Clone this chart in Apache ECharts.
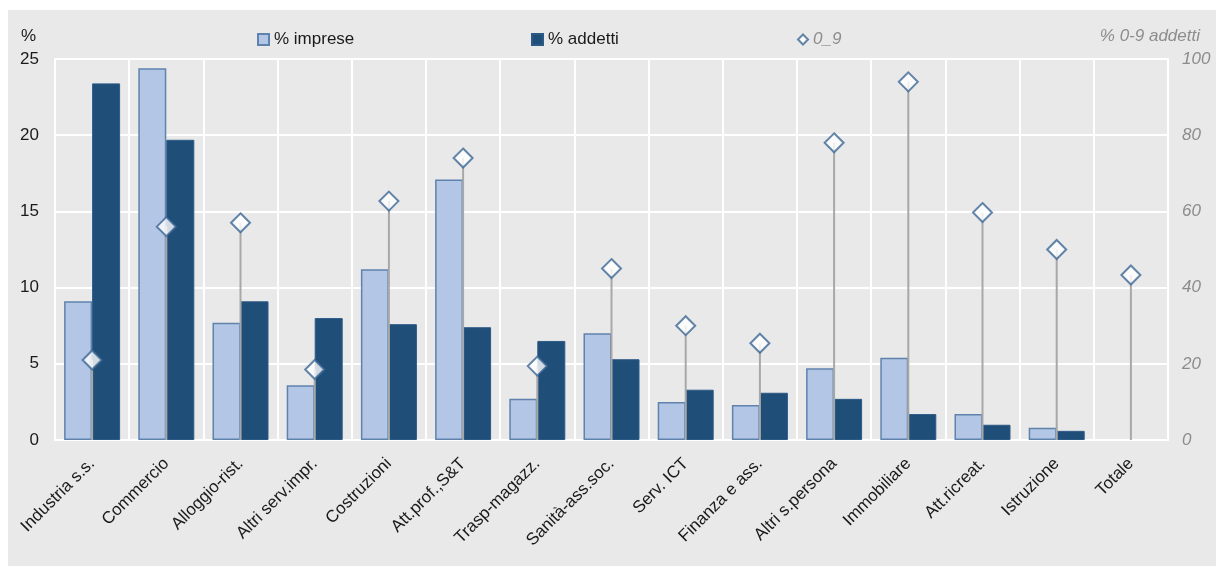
<!DOCTYPE html>
<html>
<head>
<meta charset="utf-8">
<script src="https://cdn.jsdelivr.net/npm/echarts@6/dist/echarts.min.js"></script>
<style>
  html, body { margin: 0; padding: 0; background: #ffffff; }
  #chart { position: absolute; left: 8px; top: 10px; width: 1208px; height: 556px; }
</style>
</head>
<body>
<div id="chart"></div>
<script>
// Sectors
const categories = [
  'Industria s.s.', 'Commercio', 'Alloggio-rist.', 'Altri serv.impr.', 'Costruzioni',
  'Att.prof.,S&T', 'Trasp-magazz.', 'Sanità-ass.soc.', 'Serv. ICT', 'Finanza e ass.',
  'Altri s.persona', 'Immobiliare', 'Att.ricreat.', 'Istruzione', 'Totale'
];
// Share of firms (%), left axis
const impresePct = [9.1, 24.4, 7.7, 3.6, 11.2, 17.1, 2.7, 7.0, 2.5, 2.3, 4.7, 5.4, 1.7, 0.8, null];
// Share of employees (%), left axis
const addettiPct = [23.4, 19.7, 9.1, 8.0, 7.6, 7.4, 6.5, 5.3, 3.3, 3.1, 2.7, 1.7, 1.0, 0.6, null];
// Share of employees in firms with 0-9 employees (%), right axis
const micro09 = [21, 56, 57, 18.5, 62.7, 74, 19.4, 45, 30, 25.4, 78, 94, 59.7, 50, 43.3];
const leftTicks = { min: 0, max: 25, interval: 5 };
const rightTicks = { min: 0, max: 100, interval: 20 };

const FONT = '"Liberation Sans Narrow", "Arial Narrow", "Liberation Sans", sans-serif';
const LIGHT = '#b3c6e5';
const LIGHT_BORDER = '#5f83ad';
const DARK = '#1f4e79';
const DARK_BORDER = '#2c5a86';
const DIAMOND_BORDER = '#3d6895';

const chart = echarts.init(document.getElementById('chart'), null, { renderer: 'canvas' });

const stemData = micro09.map((v, i) => [i, v]);

chart.setOption({
  backgroundColor: '#e9e9e9',
  animation: false,
  textStyle: { fontFamily: FONT },
  grid: { left: 47, right: 48, top: 49, bottom: 126, show: false },
  legend: [
    {
      left: 244, top: 16, itemWidth: 11, itemHeight: 11, itemGap: 4,
      textStyle: { fontFamily: FONT, fontSize: 17, color: '#1a1a1a' },
      data: [{ name: '% imprese', icon: 'rect' }]
    },
    {
      left: 518, top: 16, itemWidth: 11, itemHeight: 11, itemGap: 4,
      textStyle: { fontFamily: FONT, fontSize: 17, color: '#1a1a1a' },
      data: [{ name: '% addetti', icon: 'rect' }]
    },
    {
      left: 784, top: 16, itemWidth: 10, itemHeight: 10, itemGap: 4,
      textStyle: { fontFamily: FONT, fontSize: 17, color: '#8c8c8c', fontStyle: 'italic' },
      data: [{ name: '0_9', icon: 'diamond' }]
    }
  ],
  graphic: [
    {
      type: 'text', left: 13, top: 18,
      style: { text: '%', font: '17px ' + FONT, fill: '#1a1a1a' }
    },
    {
      type: 'text', right: 16, top: 18,
      style: { text: '% 0-9 addetti', font: 'italic 17px ' + FONT, fill: '#8c8c8c' }
    }
  ],
  xAxis: {
    type: 'category',
    data: categories,
    boundaryGap: true,
    axisLine: { show: true, lineStyle: { color: '#ffffff', width: 2 } },
    axisTick: { show: false },
    splitLine: { show: true, lineStyle: { color: '#ffffff', width: 2 } },
    axisLabel: {
      interval: 0, rotate: 45, margin: 21,
      fontFamily: FONT, fontSize: 17, color: '#1a1a1a'
    }
  },
  yAxis: [
    {
      type: 'value', position: 'left',
      min: leftTicks.min, max: leftTicks.max, interval: leftTicks.interval,
      axisLine: { show: true, lineStyle: { color: '#ffffff', width: 2 } },
      axisTick: { show: false },
      splitLine: { show: true, lineStyle: { color: '#ffffff', width: 2 } },
      axisLabel: { margin: 16, fontFamily: FONT, fontSize: 17, color: '#1a1a1a' }
    },
    {
      type: 'value', position: 'right',
      min: rightTicks.min, max: rightTicks.max, interval: rightTicks.interval,
      axisLine: { show: true, lineStyle: { color: '#ffffff', width: 2 } },
      axisTick: { show: false },
      splitLine: { show: false },
      axisLabel: {
        margin: 14, fontFamily: FONT, fontSize: 17, color: '#8c8c8c', fontStyle: 'italic'
      }
    }
  ],
  series: [
    {
      name: '% imprese', type: 'bar', yAxisIndex: 0,
      data: impresePct,
      barWidth: 28, barGap: '0%',
      itemStyle: { color: LIGHT, borderColor: LIGHT_BORDER, borderWidth: 1.5 },
      z: 2
    },
    {
      name: '% addetti', type: 'bar', yAxisIndex: 0,
      data: addettiPct,
      barWidth: 28, barGap: '0%',
      itemStyle: { color: DARK, borderColor: DARK_BORDER, borderWidth: 1 },
      z: 2
    },
    {
      // vertical stems from zero to each 0-9 value
      name: 'stem', type: 'custom', yAxisIndex: 1,
      data: stemData,
      z: 3,
      silent: true,
      renderItem: function (params, api) {
        const i = api.value(0);
        const p0 = api.coord([i, 0]);
        const p1 = api.coord([i, api.value(1)]);
        return {
          type: 'line',
          shape: { x1: p0[0], y1: p0[1], x2: p1[0], y2: p1[1] },
          style: { stroke: '#a8a8a8', lineWidth: 2 }
        };
      }
    },
    {
      name: '0_9', type: 'scatter', yAxisIndex: 1,
      data: micro09,
      symbol: 'diamond', symbolSize: 19,
      itemStyle: { color: '#ffffff', borderColor: DIAMOND_BORDER, borderWidth: 2 },
      z: 4
    }
  ]
});
</script>
</body>
</html>
